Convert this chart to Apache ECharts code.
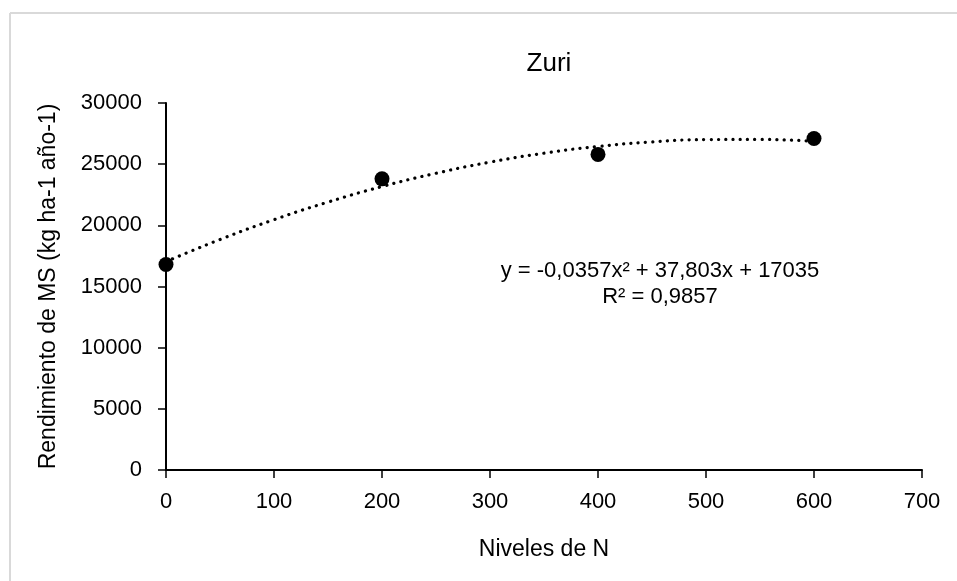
<!DOCTYPE html>
<html>
<head>
	<meta charset="utf-8">
	<title>Zuri</title>
	<script type="text/javascript" src="https://cdn.jsdelivr.net/npm/echarts@6/dist/echarts.min.js"></script>
</head>
<style type="text/css">
body {
	margin: 0;
	background: #fff;
}
#chart {
	width: 957px;
	height: 581px;
}
</style>
<body>
	<div id="chart"></div>
</body>
<script type="text/javascript">
	// puntos observados
	var nivelesN = [0, 200, 400, 600];
	var rendimiento = [16800, 23800, 25800, 27100];

	// linea de tendencia (polinomica)
	var tendX = [0, 50, 100, 150, 200, 250, 300, 350, 400, 450, 500, 550, 600];
	var tendY = [17035, 18840, 20460, 21900, 23170, 24255, 25165, 25895, 26445, 26820, 27010, 27025, 26865];

	var yTicks = [0, 5000, 10000, 15000, 20000, 25000, 30000];
	var xTicks = [0, 100, 200, 300, 400, 500, 600, 700];

	var ecuacion = 'y = -0,0357x² + 37,803x + 17035';
	var r2 = 'R² = 0,9857';

	var fuente = '"Liberation Sans", Arial, sans-serif';

	var puntos = [];
	for (var i = 0; i < nivelesN.length; i++) {
		puntos.push([nivelesN[i], rendimiento[i]]);
	}
	var tendencia = [];
	for (var j = 0; j < tendX.length; j++) {
		tendencia.push([tendX[j], tendY[j]]);
	}

	var Chart1 = echarts.init(document.getElementById('chart'));

	var option1 = {
		animation: false,
		title: {
			text: 'Zuri',
			left: 544,
			top: 46,
			textAlign: 'center',
			textStyle: { fontFamily: fuente, fontSize: 26, fontWeight: 'normal', color: '#000' }
		},
		grid: {
			left: 166,
			right: 35,
			top: 103,
			bottom: 111
		},
		xAxis: {
			type: 'value',
			min: xTicks[0],
			max: xTicks[xTicks.length - 1],
			interval: 100,
			name: 'Niveles de N',
			nameLocation: 'middle',
			nameGap: 68,
			nameTextStyle: { fontFamily: fuente, fontSize: 23, color: '#000' },
			axisLine: { show: true, lineStyle: { color: '#000', width: 2 } },
			axisTick: { show: true, length: 8, lineStyle: { color: '#000', width: 1.5 } },
			axisLabel: { fontFamily: fuente, fontSize: 22, color: '#000', margin: 21, formatter: function (v) { return String(v); } },
			splitLine: { show: false }
		},
		yAxis: {
			type: 'value',
			min: yTicks[0],
			max: yTicks[yTicks.length - 1],
			interval: 5000,
			name: 'Rendimiento de MS (kg ha-1 año-1)',
			nameLocation: 'middle',
			nameGap: 106,
			nameTextStyle: { fontFamily: fuente, fontSize: 23, color: '#000' },
			axisLine: { show: true, lineStyle: { color: '#000', width: 2 } },
			axisTick: { show: true, length: 8, lineStyle: { color: '#000', width: 1.5 } },
			axisLabel: { fontFamily: fuente, fontSize: 22, color: '#000', margin: 24, formatter: function (v) { return String(v); } },
			splitLine: { show: false }
		},
		series: [
			{
				name: 'tendencia',
				type: 'line',
				data: tendencia,
				smooth: true,
				showSymbol: false,
				symbol: 'none',
				lineStyle: { color: '#000', width: 3.2, type: [0.1, 7.2], cap: 'round' },
				z: 2
			},
			{
				name: 'Zuri',
				type: 'scatter',
				data: puntos,
				symbol: 'circle',
				symbolSize: 15,
				itemStyle: { color: '#000', opacity: 1 },
				z: 3
			}
		],
		graphic: [
			{
				type: 'line',
				shape: { x1: 10, y1: 13, x2: 957, y2: 13 },
				style: { stroke: '#d9d9d9', lineWidth: 2 }
			},
			{
				type: 'line',
				shape: { x1: 10, y1: 13, x2: 10, y2: 581 },
				style: { stroke: '#d9d9d9', lineWidth: 2 }
			},
			{
				type: 'text',
				x: 660,
				y: 258,
				style: {
					text: ecuacion + '\n' + r2,
					font: '22px ' + fuente,
					fill: '#000',
					align: 'center',
					verticalAlign: 'top',
					lineHeight: 26
				}
			}
		]
	};
	Chart1.setOption(option1);
</script>
</html>
